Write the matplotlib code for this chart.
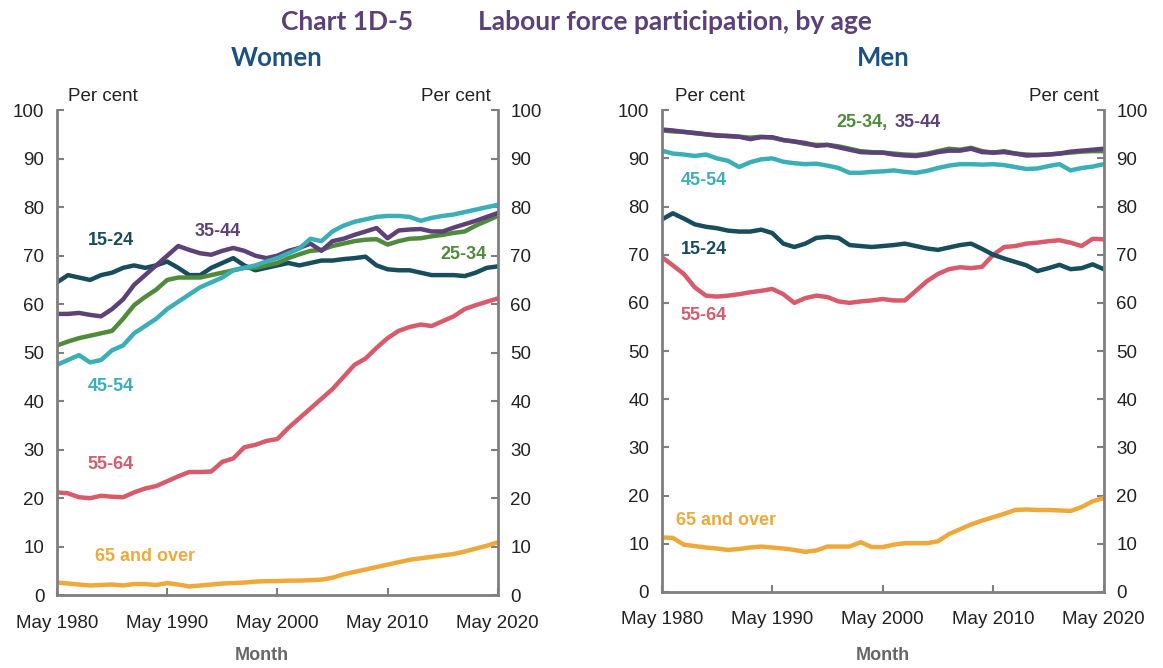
import numpy as np
import matplotlib.pyplot as plt

years = np.arange(1980, 2021)

# women, per cent
w_15_24 = [64.5, 66, 65.5, 65, 66, 66.5, 67.5, 68, 67.5, 68,
           68.8, 67.5, 66, 66, 67.5, 68.5, 69.5, 68, 67, 67.5,
           68, 68.5, 68, 68.5, 69, 69, 69.3, 69.5, 69.8, 68,
           67.2, 67, 67, 66.5, 66, 66, 66, 65.8, 66.5, 67.5, 67.8]
w_25_34 = [51.5, 52.3, 53, 53.5, 54, 54.5, 57, 59.8, 61.5, 63,
           65, 65.5, 65.5, 65.5, 66, 66.5, 67, 67.5, 67.5, 68,
           68.5, 69.5, 70.3, 71, 71.2, 72, 72.5, 73, 73.3, 73.4,
           72.3, 73, 73.5, 73.6, 74, 74.3, 74.7, 75, 76.2, 77.2, 78.2]
w_35_44 = [58, 58, 58.2, 57.8, 57.5, 59, 61, 64, 66, 68,
           70, 72, 71.2, 70.5, 70.2, 71, 71.6, 71, 70, 69.5,
           70, 71, 71.6, 72.5, 71, 73, 73.5, 74.3, 75, 75.7,
           73.6, 75.2, 75.4, 75.5, 75, 75, 75.8, 76.5, 77.2, 78, 78.8]
w_45_54 = [47.5, 48.5, 49.5, 48, 48.5, 50.5, 51.5, 54, 55.5, 57,
           59, 60.5, 62, 63.5, 64.5, 65.5, 67, 67.5, 68, 68.8,
           69.5, 70.5, 71.5, 73.5, 73, 75, 76.2, 77, 77.5, 78,
           78.2, 78.2, 78, 77.2, 77.8, 78.2, 78.5, 79, 79.5, 80, 80.5]
w_55_64 = [21.2, 21, 20.2, 20, 20.5, 20.3, 20.2, 21.2, 22, 22.5,
           23.5, 24.5, 25.4, 25.4, 25.5, 27.5, 28.2, 30.5, 31, 31.8,
           32.2, 34.5, 36.5, 38.5, 40.5, 42.5, 45, 47.5, 48.8, 51,
           53, 54.5, 55.3, 55.8, 55.5, 56.5, 57.5, 59, 59.8, 60.5, 61.2]
w_65 = [2.6, 2.4, 2.2, 2.0, 2.1, 2.2, 2.0, 2.3, 2.3, 2.1,
        2.5, 2.2, 1.8, 2.0, 2.2, 2.4, 2.5, 2.6, 2.8, 2.9,
        2.9, 3.0, 3.0, 3.1, 3.2, 3.6, 4.3, 4.8, 5.3, 5.8,
        6.3, 6.8, 7.3, 7.6, 7.9, 8.2, 8.5, 9.0, 9.6, 10.2, 10.9]

# men, per cent
m_15_24 = [77.3, 78.6, 77.5, 76.3, 75.8, 75.5, 75, 74.8, 74.8, 75.2,
           74.5, 72.3, 71.6, 72.3, 73.5, 73.7, 73.5, 72, 71.8, 71.6,
           71.8, 72, 72.3, 71.8, 71.3, 71, 71.5, 72, 72.3, 71.2,
           70, 69.2, 68.5, 67.8, 66.6, 67.2, 67.9, 67, 67.2, 68, 67]
m_25_34 = [95.8, 95.6, 95.5, 95.2, 95, 94.7, 94.7, 94.5, 94.3, 94.5,
           94.3, 93.8, 93.5, 93, 92.8, 92.8, 92.5, 92, 91.5, 91.3,
           91.2, 91, 90.8, 90.7, 91, 91.5, 92, 91.8, 92.2, 91.5,
           91.2, 91.5, 91, 90.8, 90.7, 90.8, 91, 91.2, 91.4, 91.5, 91.5]
m_35_44 = [96, 95.8, 95.5, 95.3, 95, 94.8, 94.6, 94.5, 94, 94.4,
           94.4, 93.8, 93.5, 93.2, 92.6, 92.8, 92.3, 91.8, 91.3, 91.2,
           91.2, 90.8, 90.6, 90.5, 90.8, 91.3, 91.6, 91.6, 92, 91.3,
           91.2, 91.3, 91, 90.6, 90.7, 90.8, 91, 91.4, 91.6, 91.8, 92]
m_45_54 = [91.6, 91, 90.8, 90.5, 90.8, 90, 89.5, 88.2, 89.2, 89.8,
           90, 89.3, 89, 88.8, 88.9, 88.5, 88, 87, 87, 87.2,
           87.3, 87.5, 87.2, 87, 87.4, 88, 88.5, 88.8, 88.8, 88.7,
           88.8, 88.6, 88.2, 87.8, 87.9, 88.4, 88.8, 87.5, 88, 88.3, 88.8]
m_55_64 = [69.5, 67.8, 66, 63.2, 61.5, 61.3, 61.5, 61.8, 62.2, 62.5,
           62.9, 61.8, 60, 61, 61.5, 61.2, 60.3, 60, 60.3, 60.5,
           60.8, 60.5, 60.5, 62.5, 64.5, 66, 67, 67.4, 67.2, 67.5,
           70, 71.6, 71.8, 72.3, 72.5, 72.8, 73, 72.5, 71.8, 73.3, 73.2]
m_65 = [11.3, 11.2, 9.8, 9.5, 9.2, 9.0, 8.7, 8.9, 9.2, 9.4,
        9.2, 9.0, 8.7, 8.3, 8.6, 9.4, 9.4, 9.4, 10.3, 9.3,
        9.3, 9.8, 10.1, 10.1, 10.1, 10.5, 12.0, 13.0, 14.0, 14.8,
        15.5, 16.2, 17.0, 17.1, 17.0, 17.0, 16.9, 16.8, 17.6, 18.8, 19.5]

tick_years = [1980, 1990, 2000, 2010, 2020]
tick_labels = ['May 1980', 'May 1990', 'May 2000', 'May 2010', 'May 2020']

c_dark = '#174d5c'
c_green = '#4f8b3b'
c_purple = '#5c4279'
c_teal = '#3aafb7'
c_red = '#d85a6b'
c_orange = '#eea93a'
c_grey = '#7f7f7f'

plt.rcParams['font.family'] = ['Liberation Sans', 'DejaVu Sans']

fig = plt.figure(figsize=(11.63, 6.68), dpi=100)
ax1 = fig.add_axes([0.049, 0.109, 0.379, 0.726])
ax2 = fig.add_axes([0.569, 0.114, 0.380, 0.721])


def style(ax, left_pc, right_pc):
    ax.set_xlim(1980, 2020)
    ax.set_ylim(0, 100)
    ax.set_yticks(np.arange(0, 101, 10))
    ax.set_xticks(tick_years)
    ax.set_xticklabels(tick_labels)
    ax.spines['top'].set_visible(False)
    for s in ['left', 'right', 'bottom']:
        ax.spines[s].set_color(c_grey)
        ax.spines[s].set_linewidth(2)
    ax.tick_params(axis='y', direction='in', left=True, right=True,
                   labelleft=True, labelright=True, length=5, width=1.5,
                   color=c_grey, labelsize=13.5, labelcolor='#222222', pad=9)
    ax.tick_params(axis='x', direction='in', length=5, width=1.5,
                   color=c_grey, labelsize=13.5, labelcolor='#222222', pad=14)
    ax.text(left_pc, 1.01, 'Per cent', transform=ax.transAxes, fontsize=13.5,
            ha='center', va='bottom', color='#222222')
    ax.text(right_pc, 1.01, 'Per cent', transform=ax.transAxes, fontsize=13.5,
            ha='center', va='bottom', color='#222222')


lw = 3.2
style(ax1, 0.105, 0.905)
style(ax2, 0.11, 0.91)

ax1.plot(years, w_65, color=c_orange, lw=lw)
ax1.plot(years, w_55_64, color=c_red, lw=lw)
ax1.plot(years, w_15_24, color=c_dark, lw=lw)
ax1.plot(years, w_25_34, color=c_green, lw=lw)
ax1.plot(years, w_35_44, color=c_purple, lw=lw)
ax1.plot(years, w_45_54, color=c_teal, lw=lw)

lab = dict(fontsize=13, fontweight='bold', ha='center', va='center')
ax1.text(1984.9, 73.2, '15-24', color=c_dark, **lab)
ax1.text(1994.6, 75, '35-44', color=c_purple, **lab)
ax1.text(2016.9, 70.3, '25-34', color=c_green, **lab)
ax1.text(1984.9, 43, '45-54', color=c_teal, **lab)
ax1.text(1984.9, 27, '55-64', color=c_red, **lab)
ax1.text(1988.0, 7.9, '65 and over', color=c_orange, **lab)

ax2.plot(years, m_65, color=c_orange, lw=lw)
ax2.plot(years, m_55_64, color=c_red, lw=lw)
ax2.plot(years, m_15_24, color=c_dark, lw=lw)
ax2.plot(years, m_45_54, color=c_teal, lw=lw)
ax2.plot(years, m_25_34, color=c_green, lw=lw)
ax2.plot(years, m_35_44, color=c_purple, lw=lw)

ax2.text(1998.1, 97.5, '25-34,', color=c_green, **lab)
ax2.text(2003.2, 97.5, '35-44', color=c_purple, **lab)
ax2.text(1983.8, 85.5, '45-54', color=c_teal, **lab)
ax2.text(1983.8, 71, '15-24', color=c_dark, **lab)
ax2.text(1983.8, 57.4, '55-64', color=c_red, **lab)
ax2.text(1985.8, 14.9, '65 and over', color=c_orange, **lab)

month_kw = dict(fontsize=13, fontweight='bold', color='#666666', ha='center', va='center')
fig.text(262 / 1163, 1 - 655 / 668, 'Month', **month_kw)
fig.text(883 / 1163, 1 - 655 / 668, 'Month', **month_kw)

title_kw = dict(fontsize=19, fontweight='bold', color='#5b4079',
                va='center', ha='center', family=['Lato', 'DejaVu Sans'])
fig.text(347 / 1163, 1 - 22 / 668, 'Chart 1D-5', **title_kw)
fig.text(675 / 1163, 1 - 22 / 668, 'Labour force participation, by age', **title_kw)
sub_kw = dict(fontsize=18.5, fontweight='bold', color='#1b5283', va='center',
              ha='center', family=['Lato', 'DejaVu Sans'])
fig.text(277 / 1163, 1 - 58 / 668, 'Women', **sub_kw)
fig.text(883 / 1163, 1 - 58 / 668, 'Men', **sub_kw)

fig.savefig('out.png', dpi=100)
